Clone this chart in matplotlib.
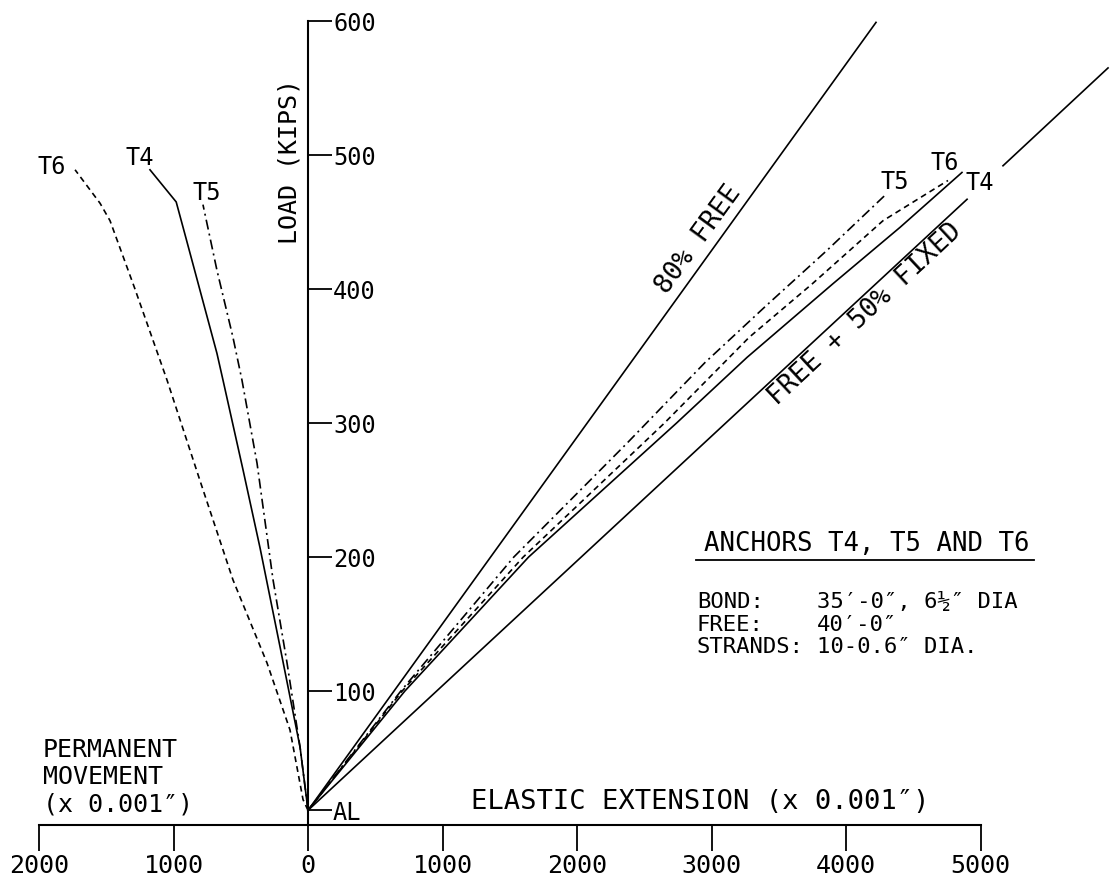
import matplotlib
matplotlib.use("Agg")
import matplotlib.pyplot as plt
import numpy as np
from matplotlib.lines import Line2D
from matplotlib.transforms import IdentityTransform

plt.rcParams['font.family'] = ['DejaVu Sans Mono', 'DejaVu Sans']

# ---------------- data ----------------
AL = 11  # alignment load (kips)

# elastic extension (x 0.001")
t4_el_load = [AL, 100, 200, 300, 349, 404, 446, 487]
t4_el_ext = [0, 720, 1640, 2740, 3264, 3903, 4401, 4862]
t5_el_load = [AL, 100, 200, 285, 345, 387, 429, 470]
t5_el_ext = [0, 690, 1530, 2372, 2950, 3400, 3860, 4290]
t6_el_load = [AL, 100, 200, 300, 364, 404, 451, 481]
t6_el_ext = [0, 700, 1600, 2650, 3280, 3750, 4275, 4758]

# permanent movement (x 0.001"), plotted to the left
t4_pm_load = [AL, 58, 133, 207, 265, 332, 352, 439, 465, 489]
t4_pm = [0, 59, 208, 357, 483, 632, 677, 910, 980, 1175]
t5_pm_load = [AL, 58, 121, 183, 270, 332, 364, 414, 463]
t5_pm = [0, 59, 156, 260, 379, 491, 558, 677, 781]
t6_pm_load = [AL, 19, 71, 121, 183, 257, 332, 401, 451, 464, 489]
t6_pm = [0, 37, 134, 305, 558, 803, 1048, 1290, 1472, 1546, 1732]

# theoretical lines
free80_ext = [0, 4223]
free80_load = [AL, 599]
free50_ext = [0, 4900, np.nan, 5167, 5948]
free50_load = [AL, 467, np.nan, 492, 565]

x_ticks = [-2000, -1000, 0, 1000, 2000, 3000, 4000, 5000]
x_ticklabels = ['2000', '1000', '0', '1000', '2000', '3000', '4000', '5000']
y_ticks = [AL, 100, 200, 300, 400, 500, 600]
y_ticklabels = ['AL', '100', '200', '300', '400', '500', '600']

# ---------------- figure ----------------
fig = plt.figure(figsize=(11.11, 8.8), dpi=100)
ax = fig.add_axes([0, 0, 1, 1])
ax.set_xlim(-2290, 5970)
ax.set_ylim(-41, 615.7)

for s in ['top', 'left']:
    ax.spines[s].set_visible(False)
ax.spines['right'].set_position(('data', 0))
ax.spines['right'].set_bounds(0, 600)
ax.spines['bottom'].set_position(('data', 0))
ax.spines['bottom'].set_bounds(-2000, 5000)
for s in ['right', 'bottom']:
    ax.spines[s].set_linewidth(1.5)
    ax.spines[s].set_color('black')

ax.yaxis.tick_right()
ax.set_yticks(y_ticks)
ax.set_yticklabels(y_ticklabels)
ax.set_xticks(x_ticks)
ax.set_xticklabels(x_ticklabels)
ax.tick_params(axis='y', direction='out', length=17, width=1.3, pad=1, labelsize=17)
ax.tick_params(axis='x', direction='out', length=18.5, width=1.3, pad=2, labelsize=18)

lw = 1.2
k = 'black'
dashdot = (0, (6, 2.5, 1.2, 2.5))
dashed = (0, (3.5, 2.5))
# elastic curves
ax.plot(t4_el_ext, t4_el_load, color=k, lw=lw, ls='-')
ax.plot(t5_el_ext, t5_el_load, color=k, lw=lw, ls=dashdot)
ax.plot(t6_el_ext, t6_el_load, color=k, lw=lw, ls=dashed)
# permanent curves
ax.plot(-np.array(t4_pm), t4_pm_load, color=k, lw=lw, ls='-')
ax.plot(-np.array(t5_pm), t5_pm_load, color=k, lw=lw, ls=dashdot)
ax.plot(-np.array(t6_pm), t6_pm_load, color=k, lw=lw, ls=dashed)
# theoretical lines
ax.plot(free80_ext, free80_load, color=k, lw=lw)
ax.plot(free50_ext, free50_load, color=k, lw=lw)

# curve labels
lab_fs = 17
ax.text(-1903, 491, 'T6', fontsize=lab_fs, ha='center', va='center')
ax.text(-1249, 498, 'T4', fontsize=lab_fs, ha='center', va='center')
ax.text(-751, 472, 'T5', fontsize=lab_fs, ha='center', va='center')
ax.text(4364, 480, 'T5', fontsize=lab_fs, ha='center', va='center')
ax.text(4736, 494, 'T6', fontsize=lab_fs, ha='center', va='center')
ax.text(4996, 479, 'T4', fontsize=lab_fs, ha='center', va='center')

ax.text(2907, 437, '80% FREE', fontsize=19, rotation=54, ha='center', va='center')
ax.text(4141, 381, 'FREE + 50% FIXED', fontsize=19, rotation=43, ha='center', va='center')

# axis titles
ax.text(-134, 495, 'LOAD (KIPS)', fontsize=18, rotation=90, ha='center', va='center')
ax.text(-1970, 35.8, 'PERMANENT\nMOVEMENT\n(x 0.001″)', fontsize=18, ha='left', va='center',
        linespacing=1.18)
ax.text(2914, 17, 'ELASTIC EXTENSION (x 0.001″)', fontsize=19.5, ha='center', va='center')

# anchor info block
title = ax.text(4156, 209.7, 'ANCHORS T4, T5 AND T6', fontsize=18.5, ha='center', va='center')
body_fs = 16
ax.text(2892, 166.4, 'BOND:', fontsize=body_fs, ha='left', va='center')
ax.text(2892, 149.3, 'FREE:', fontsize=body_fs, ha='left', va='center')
ax.text(2892, 132.8, 'STRANDS:', fontsize=body_fs, ha='left', va='center')
ax.text(3784, 166.4, '35′-0″, 6½″ DIA', fontsize=body_fs, ha='left', va='center')
ax.text(3784, 149.3, '40′-0″', fontsize=body_fs, ha='left', va='center')
ax.text(3784, 132.8, '10-0.6″ DIA.', fontsize=body_fs, ha='left', va='center')

fig.canvas.draw()
bb = title.get_window_extent()
fig.add_artist(Line2D([bb.x0 - 8, bb.x1 + 4], [bb.y0 - 3, bb.y0 - 3],
                      transform=IdentityTransform(), color='black', lw=1.3))

fig.savefig('out.png', dpi=100, facecolor='white')
